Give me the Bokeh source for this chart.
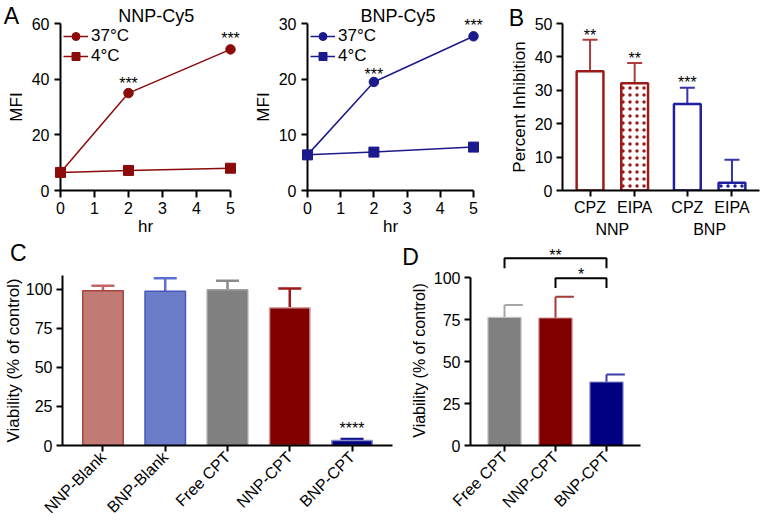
from bokeh.plotting import figure
from bokeh.models import Range1d, FactorRange, ColumnDataSource, FixedTicker
from bokeh.layouts import column, row
from bokeh.embed import file_html
from bokeh.resources import INLINE
from bokeh.core.properties import value
from math import pi

FONT = "Liberation Sans"
TICK_FS = "16px"
CAT_FS = "16px"
LAB_FS = "17px"

# ---------------- data ----------------
# Panel A: uptake over time (MFI)
hours = [0, 2, 5]
hour_ticks = [0, 1, 2, 3, 4, 5]
nnp_37 = [6.5, 35.0, 50.7]
nnp_4 = [6.5, 7.2, 8.0]
bnp_37 = [6.4, 19.5, 27.7]
bnp_4 = [6.4, 6.9, 7.8]
nnp_ticks = [0, 20, 40, 60]
bnp_ticks = [0, 10, 20, 30]
star_hours = [2, 5]
nnp_star_y = [39.4, 55.6]
bnp_star_y = [21.4, 30.1]
a_stars = ["***", "***"]

# Panel B: percent inhibition
inh_groups = ["NNP", "NNP", "BNP", "BNP"]
inh_drugs = ["CPZ", "EIPA", "CPZ", "EIPA"]
inh_mean = [35.7, 32.1, 25.9, 2.3]
inh_err = [45.1, 38.2, 30.8, 9.2]
inh_ticks = [0, 10, 20, 30, 40, 50]
inh_star_idx = [0, 1, 2]
inh_stars = ["**", "**", "***"]
inh_star_y = [47.3, 40.5, 33.2]

# Panel C: viability
via_groups = ["NNP-Blank", "BNP-Blank", "Free CPT", "NNP-CPT", "BNP-CPT"]
via_mean = [99.0, 98.7, 99.6, 88.0, 3.2]
via_err = [102.1, 106.9, 105.3, 100.4, 4.2]
via_ticks = [0, 25, 50, 75, 100]
via_star_group = ["BNP-CPT"]
via_stars = ["****"]
via_star_y = [12.6]

# Panel D: viability (CPT formulations)
cyt_groups = ["Free CPT", "NNP-CPT", "BNP-CPT"]
cyt_mean = [76.3, 75.9, 37.8]
cyt_err = [83.7, 88.6, 42.2]
cyt_ticks = [0, 25, 50, 75, 100]
bracket_from = [0, 1]          # index of left group
bracket_to = [2, 2]            # index of right group
bracket_top = [111.4, 99.6]
bracket_leg = [105.5, 93.7]
bracket_stars = ["**", "*"]
bracket_star_y = [114.9, 103.3]

# ---------------- colours ----------------
RED = "#8b0a0a"
BLUE = "#1a1a8c"
B_LINE = ["#9b1b1b", "#9b1b1b", "#1f1f9f", "#1f1f9f"]
B_ERR = ["#b03c3c", "#b03c3c", "#3535aa", "#3535aa"]
B_HATCH = [" ", "dot", " ", "dot"]
C_FILL = ["#c27a74", "#6b7cc8", "#808080", "#800000", "#000080"]
C_LINE = ["#a84440", "#4658c0", "#a0a0a0", "#d4a0a0", "#8888c8"]
C_ERR = ["#c46464", "#5b6fd0", "#8a8a8a", "#a01818", "#101090"]
D_FILL = ["#808080", "#800000", "#000080"]
D_LINE = ["#c4c4c4", "#c89090", "#8a8ac8"]
D_ERR = ["#a8a8a8", "#a83a3a", "#3a3aa8"]


def style(p):
    p.outline_line_color = None
    p.grid.visible = False
    p.background_fill_color = "white"
    p.border_fill_color = "white"
    for ax in p.axis:
        ax.axis_line_width = 2
        ax.axis_line_color = "black"
        ax.major_tick_line_width = 2
        ax.major_tick_line_color = "black"
        ax.major_tick_out = 6
        ax.major_tick_in = 0
        ax.minor_tick_line_color = None
        ax.major_label_text_font = FONT
        ax.major_label_text_font_size = TICK_FS
        ax.major_label_text_color = "black"
        ax.major_label_standoff = 4
        ax.axis_label_text_font = FONT
        ax.axis_label_text_font_size = LAB_FS
        ax.axis_label_text_font_style = "normal"
        ax.axis_label_text_color = "black"
        ax.axis_label_standoff = 3


def make(w, h, g):
    p = figure(width=w, height=h, x_range=g["xr"], y_range=Range1d(*g["y"]),
               output_backend="svg", toolbar_location=None,
               min_border_left=g["left"], min_border_right=w - g["left"] - g["fw"],
               min_border_top=g["top"], min_border_bottom=h - g["top"] - g["fh"])
    style(p)
    return p


def letter(p, g, px, py, text, size="23px"):
    # pixel position inside the figure -> data coordinates of this figure
    x0, x1 = g["x"]
    y0, y1 = g["y"]
    x = x0 + (px - g["left"]) / g["fw"] * (x1 - x0)
    y = y1 - (py - g["top"]) / g["fh"] * (y1 - y0)
    p.text(x=[x], y=[y], text=[text], text_font=value(FONT), text_font_size=size,
           text_align="center", text_baseline="middle", text_color="black",
           level="overlay")


def stars(p, xs, ys, texts):
    p.text(x=xs, y=ys, text=texts, text_font=value(FONT), text_font_size="16px",
           text_align="center", text_baseline="middle", y_offset=3, text_color="black",
           level="overlay")


# ---------------- Panel A ----------------
def panel_a(g, y37, y4, yticks, col, sy, title, tx, lab_letter=None):
    p = make(250, 240, g)
    p.xaxis.ticker = FixedTicker(ticks=hour_ticks)
    p.yaxis.ticker = FixedTicker(ticks=yticks)
    p.xaxis.axis_label = "hr"
    p.xaxis.major_tick_out = 7
    p.xaxis.major_label_standoff = 4
    p.xaxis.axis_label_standoff = 0
    p.yaxis.axis_label = "MFI"
    p.yaxis.major_label_standoff = 5
    p.line(hours, y37, line_color=col, line_width=1.5, legend_label="37°C", level="overlay")
    p.scatter(hours, y37, marker="circle", size=9.5, fill_color=col, line_color=col,
              legend_label="37°C", level="overlay")
    p.line(hours, y4, line_color=col, line_width=1.5, legend_label="4°C", level="overlay")
    p.scatter(hours, y4, marker="square", size=10, fill_color=col, line_color=col,
              legend_label="4°C", level="overlay")
    stars(p, star_hours, sy, a_stars)
    lg = p.legend[0]
    lg.location = "top_left"
    lg.border_line_color = None
    lg.background_fill_alpha = 0
    lg.label_text_font = FONT
    lg.label_text_font_size = "17px"
    lg.label_text_color = "black"
    lg.glyph_width = 25
    lg.glyph_height = 20
    lg.label_height = 20
    lg.label_standoff = 3
    lg.spacing = 0
    lg.padding = 2
    lg.margin = 3
    letter(p, g, tx, 15.5, title, "18px")
    if lab_letter:
        letter(p, g, 11, 15, lab_letter)
    return p


gA1 = dict(left=60, top=23, fw=170, fh=168, x=(0, 5), y=(0, 60))
gA1["xr"] = Range1d(*gA1["x"])
gA2 = dict(left=53, top=23, fw=170, fh=168, x=(0, 5), y=(0, 30))
gA2["xr"] = Range1d(*gA2["x"])
a1 = panel_a(gA1, nnp_37, nnp_4, nnp_ticks, RED, nnp_star_y, "NNP-Cy5", 155.8, "A")
a2 = panel_a(gA2, bnp_37, bnp_4, bnp_ticks, BLUE, bnp_star_y, "BNP-Cy5", 145.8)

# ---------------- Panel B ----------------
b_factors = list(zip(inh_groups, inh_drugs))
b_pad, b_gpad = 0.117, 0.18
b_xr = FactorRange(factors=b_factors, group_padding=b_gpad, range_padding=b_pad,
                   range_padding_units="absolute")
gB = dict(left=62, top=23, fw=197, fh=168, xr=b_xr,
          x=(-b_pad, len(b_factors) + b_gpad + b_pad), y=(0, 50))
pb = make(260, 240, gB)
pb.yaxis.ticker = FixedTicker(ticks=inh_ticks)
pb.yaxis.axis_label = "Percent Inhibition"
pb.xaxis.major_label_text_font_size = CAT_FS
pb.xaxis.group_text_font = FONT
pb.xaxis.group_text_font_size = CAT_FS
pb.xaxis.group_text_font_style = "normal"
pb.xaxis.group_text_color = "black"
pb.xaxis.separator_line_color = None
pb.xaxis.major_label_standoff = 2
src_b = ColumnDataSource(dict(x=b_factors, mean=inh_mean, err=inh_err, line=B_LINE,
                              errc=B_ERR, hatch=B_HATCH))
pb.segment(x0="x", y0="mean", x1="x", y1="err", line_color="errc", line_width=2, source=src_b)
pb.scatter(x="x", y="err", marker="dash", size=15, line_color="errc", line_width=2, source=src_b)
pb.vbar(x="x", top="mean", bottom=0, width=0.6, fill_color="white", line_color="line",
        line_width=2.5, hatch_pattern="hatch", hatch_color="line", hatch_scale=7,
        hatch_weight=2.5, source=src_b)
stars(pb, [b_factors[i] for i in inh_star_idx], inh_star_y, inh_stars)
letter(pb, gB, 16, 17.5, "B")

# ---------------- Panel C ----------------
c_pad = 0.15
c_xr = FactorRange(factors=via_groups, range_padding=c_pad, range_padding_units="absolute")
gC = dict(left=56, top=35, fw=336, fh=172, xr=c_xr,
          x=(-c_pad, len(via_groups) + c_pad), y=(0, 108.7))
pc = make(400, 285, gC)
pc.yaxis.ticker = FixedTicker(ticks=via_ticks)
pc.yaxis.axis_label = "Viability (% of control)"
pc.yaxis.axis_label_standoff = 0
pc.xaxis.major_label_orientation = pi / 4
pc.xaxis.major_label_text_font_size = CAT_FS
pc.xaxis.major_label_standoff = 3
src_c = ColumnDataSource(dict(x=via_groups, mean=via_mean, err=via_err, fill=C_FILL,
                              line=C_LINE, errc=C_ERR))
pc.segment(x0="x", y0="mean", x1="x", y1="err", line_color="errc", line_width=2.5, source=src_c)
pc.scatter(x="x", y="err", marker="dash", size=23, line_color="errc", line_width=2.5, source=src_c)
pc.vbar(x="x", top="mean", bottom=0, width=0.65, fill_color="fill", line_color="line",
        line_width=1.5, source=src_c)
stars(pc, via_star_group, via_star_y, via_stars)
letter(pc, gC, 11, 12.5, "C")

# ---------------- Panel D ----------------
d_pad = 0.167
d_xr = FactorRange(factors=cyt_groups, range_padding=d_pad, range_padding_units="absolute")
gD = dict(left=70, top=35, fw=170, fh=172, xr=d_xr,
          x=(-d_pad, len(cyt_groups) + d_pad), y=(0, 101.2))
pd_ = make(360, 285, gD)
pd_.yaxis.ticker = FixedTicker(ticks=cyt_ticks)
pd_.yaxis.bounds = (0, 100)
pd_.yaxis.axis_label = "Viability (% of control)"
pd_.yaxis.axis_label_text_font_size = "16px"
pd_.xaxis.major_label_orientation = pi / 4
pd_.xaxis.major_label_text_font_size = CAT_FS
pd_.xaxis.major_label_standoff = 3
centers = [i + 0.5 for i in range(len(cyt_groups))]
cap_len = 0.36
src_d = ColumnDataSource(dict(x=cyt_groups, xc=centers, xe=[c + cap_len for c in centers],
                              mean=cyt_mean, err=cyt_err, fill=D_FILL, line=D_LINE, errc=D_ERR))
pd_.segment(x0="x", y0="mean", x1="x", y1="err", line_color="errc", line_width=2, source=src_d)
pd_.segment(x0="xc", y0="err", x1="xe", y1="err", line_color="errc", line_width=2, source=src_d)
pd_.vbar(x="x", top="mean", bottom=0, width=0.65, fill_color="fill", line_color="line",
         line_width=1.2, source=src_d)
bx, by = [], []
for i, j, t, lg in zip(bracket_from, bracket_to, bracket_top, bracket_leg):
    bx.append([centers[i], centers[i], centers[j], centers[j]])
    by.append([lg, t, t, lg])
pd_.multi_line(xs=bx, ys=by, line_color="black", line_width=2, level="overlay")
stars(pd_, [(centers[i] + centers[j]) / 2 for i, j in zip(bracket_from, bracket_to)],
      bracket_star_y, bracket_stars)
letter(pd_, gD, 10, 16.5, "D")

layout = column(row(a1, a2, pb), row(pc, pd_))
open("out.html", "w").write(file_html(layout, INLINE))
